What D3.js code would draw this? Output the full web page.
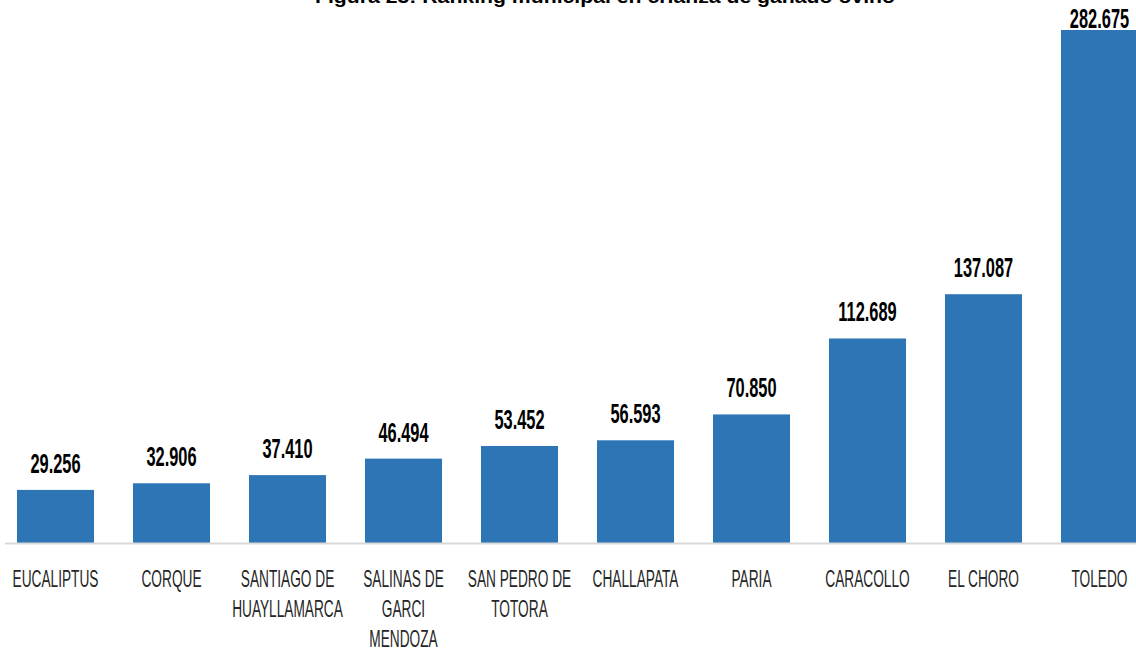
<!DOCTYPE html>
<html>
<head>
<meta charset="utf-8">
<script src="https://cdn.jsdelivr.net/npm/d3@7"></script>
<style>
  body { margin: 0; background: #fff; }
  svg { display: block; overflow: hidden; }
  .narrow { font-family: "Liberation Sans", Arial, sans-serif; }
</style>
</head>
<body>
<script>
// chart data
var title = "Figura 23: Ranking municipal en crianza de ganado ovino";
var municipios = ["EUCALIPTUS", "CORQUE", "SANTIAGO DE HUAYLLAMARCA", "SALINAS DE GARCI MENDOZA",
  "SAN PEDRO DE TOTORA", "CHALLAPATA", "PARIA", "CARACOLLO", "EL CHORO", "TOLEDO"];
var tickLines = [["EUCALIPTUS"], ["CORQUE"], ["SANTIAGO DE", "HUAYLLAMARCA"], ["SALINAS DE", "GARCI", "MENDOZA"],
  ["SAN PEDRO DE", "TOTORA"], ["CHALLAPATA"], ["PARIA"], ["CARACOLLO"], ["EL CHORO"], ["TOLEDO"]];
var ovinos = [29256, 32906, 37410, 46494, 53452, 56593, 70850, 112689, 137087, 282675];

var svgWidth = 1136;
var svgHeight = 651;

// plot area
var baseY = 543;
var topY = 30;

var svg = d3.select("body")
  .append("svg")
  .attr("width", svgWidth)
  .attr("height", svgHeight);

var data = municipios.map(function(m, i) {
  return { name: m, value: ovinos[i], lines: tickLines[i] };
});

// Spanish style thousands separator
var es = d3.formatLocale({ decimal: ",", thousands: ".", grouping: [3], currency: ["", ""] });
var fmt = es.format(",d");

var xBandScale = d3.scaleBand()
  .domain(municipios)
  .range([-2.5, 1157.5])
  .paddingInner(0.336)
  .paddingOuter(0.168);

var yLinearScale = d3.scaleLinear()
  .domain([0, d3.max(ovinos)])
  .range([baseY, topY]);

// title, cut off at the top like the source
svg.append("text")
  .attr("x", 605)
  .attr("y", 3)
  .attr("text-anchor", "middle")
  .attr("textLength", 580)
  .attr("lengthAdjust", "spacingAndGlyphs")
  .style("font-family", "Liberation Sans, Arial, sans-serif")
  .style("font-weight", "bold")
  .style("font-size", "18px")
  .style("fill", "#000")
  .text(title);

// bars
svg.selectAll("rect.bar")
  .data(data)
  .enter()
  .append("rect")
  .attr("class", "bar")
  .attr("x", d => xBandScale(d.name))
  .attr("y", d => yLinearScale(d.value))
  .attr("width", xBandScale.bandwidth())
  .attr("height", d => baseY - yLinearScale(d.value))
  .attr("fill", "#2E75B6");

// baseline axis
var axisG = svg.append("g")
  .attr("transform", `translate(0, ${baseY})`)
  .call(d3.axisBottom(xBandScale).tickSize(0).tickPadding(0));

axisG.select(".domain")
  .attr("d", "M5,0.5H1136")
  .attr("stroke", "#d9d9d9")
  .attr("stroke-width", 2);

axisG.selectAll(".tick text").remove();
axisG.selectAll(".tick").each(function(name, i) {
  var t = d3.select(this).append("text")
    .attr("class", "narrow")
    .attr("transform", "translate(0, 44) scale(0.82, 1.4)")
    .attr("text-anchor", "middle")
    .style("font-size", "16.7px")
    .style("fill", "#262626");
  tickLines[i].forEach(function(line, j) {
    t.append("tspan")
      .attr("x", 0)
      .attr("y", j * 21.4)
      .text(line);
  });
});

// value labels
svg.selectAll("text.value")
  .data(data)
  .enter()
  .append("text")
  .attr("class", "value narrow")
  .attr("transform", d => `translate(${xBandScale(d.name) + xBandScale.bandwidth() / 2}, ${Math.max(28, yLinearScale(d.value) - 17)}) scale(0.82, 1.4)`)
  .attr("text-anchor", "middle")
  .style("font-size", "20px")
  .style("font-weight", "bold")
  .style("fill", "#000")
  .text(d => fmt(d.value));
</script>
</body>
</html>
